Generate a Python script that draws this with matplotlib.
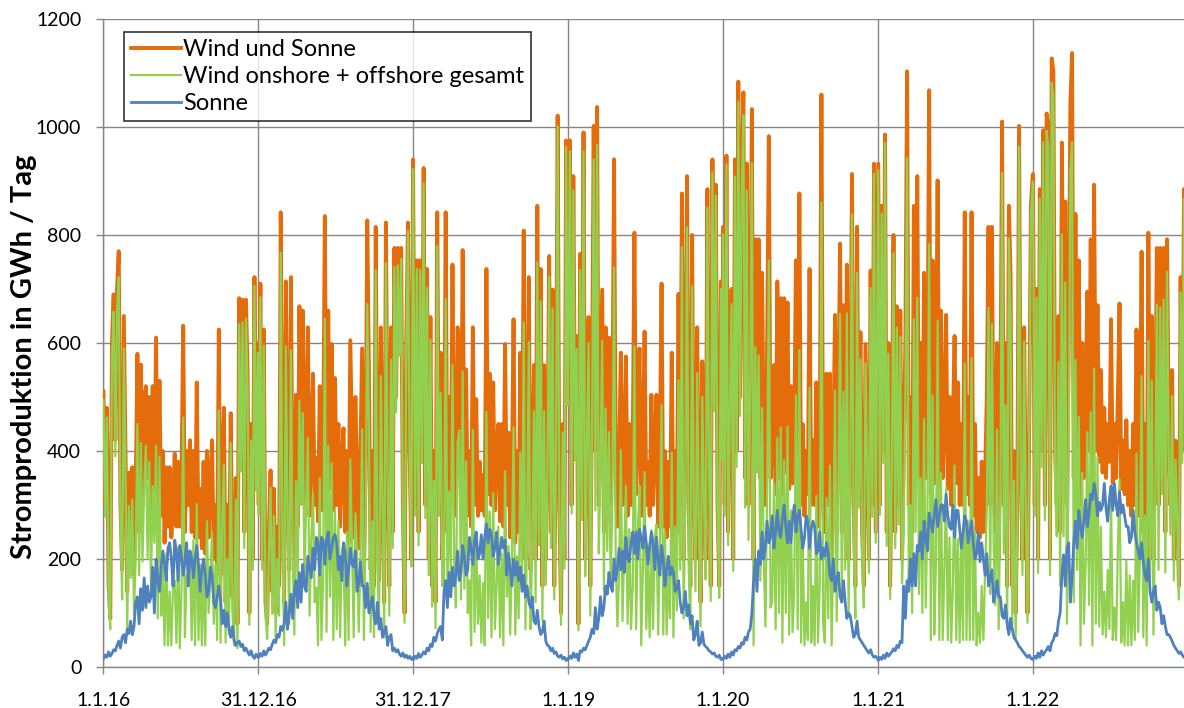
import numpy as np
import pandas as pd
import matplotlib
matplotlib.use('Agg')
import matplotlib.pyplot as plt

# Tageswerte in GWh, alle 4 Tage ein Wert (92 Werte pro Jahr)
years = [2016, 2017, 2018, 2019, 2020, 2021, 2022]

sonne_2016 = [15, 22, 18, 28, 20, 25, 32, 30, 40, 48, 35, 55, 60, 45, 70, 62,
              85, 60, 75, 120, 130, 80, 145, 105, 165, 110, 150, 120, 130, 185, 100, 200,
              160, 140, 185, 215, 190, 160, 220, 230, 200, 150, 235, 215, 160, 225, 205, 170,
              195, 230, 150, 215, 200, 165, 200, 225, 190, 140, 180, 200, 170, 130, 140, 185,
              170, 120, 110, 130, 150, 125, 80, 105, 75, 100, 70, 55, 75, 50, 40, 45,
              48, 38, 42, 30, 35, 28, 22, 30, 20, 16, 24, 18]
sonne_2017 = [18, 25, 20, 30, 22, 28, 35, 32, 42, 50, 45, 60, 55, 75, 68, 80,
              120, 70, 100, 135, 90, 140, 160, 110, 175, 120, 190, 150, 140, 205, 185, 165,
              220, 180, 240, 230, 170, 240, 235, 190, 235, 250, 200, 220, 240, 245, 230, 180,
              205, 160, 230, 210, 150, 180, 220, 190, 185, 215, 140, 155, 195, 150, 150, 110,
              155, 100, 115, 130, 95, 80, 120, 70, 90, 55, 65, 75, 40, 55, 60, 30,
              35, 28, 32, 24, 20, 26, 18, 22, 16, 20, 14, 18]
sonne_2018 = [14, 20, 16, 25, 18, 22, 28, 24, 35, 30, 42, 38, 55, 48, 62, 70,
              75, 50, 140, 160, 110, 175, 130, 185, 150, 170, 215, 160, 175, 225, 205, 170,
              180, 240, 220, 190, 235, 250, 200, 210, 245, 200, 240, 265, 230, 255, 245, 205,
              220, 250, 190, 215, 240, 220, 235, 170, 210, 180, 150, 200, 170, 195, 160, 185,
              140, 170, 130, 150, 120, 110, 130, 85, 80, 105, 75, 60, 65, 85, 48, 40,
              38, 30, 35, 25, 28, 20, 18, 22, 15, 18, 12, 16]
sonne_2019 = [14, 20, 16, 26, 18, 24, 12, 30, 28, 35, 32, 40, 48, 55, 70, 62,
              110, 70, 90, 130, 95, 110, 150, 135, 175, 150, 140, 200, 160, 185, 220, 180,
              215, 175, 240, 200, 195, 230, 250, 210, 250, 200, 255, 240, 220, 260, 230, 190,
              225, 250, 230, 180, 240, 200, 170, 225, 200, 150, 180, 205, 170, 185, 175, 140,
              145, 160, 120, 100, 110, 140, 95, 115, 80, 95, 50, 60, 85, 40, 45, 65,
              42, 38, 35, 30, 28, 24, 26, 20, 18, 22, 14, 16]
sonne_2020 = [14, 20, 16, 24, 18, 28, 22, 32, 30, 38, 35, 45, 42, 55, 50, 65,
              70, 100, 160, 200, 140, 215, 190, 250, 200, 225, 270, 230, 240, 280, 220, 250,
              290, 250, 240, 275, 300, 260, 230, 270, 230, 275, 300, 250, 280, 290, 255, 220,
              240, 280, 270, 220, 255, 270, 260, 210, 215, 250, 200, 220, 205, 230, 210, 170,
              160, 200, 140, 165, 175, 130, 120, 160, 120, 90, 100, 95, 75, 55, 60, 85,
              55, 50, 45, 40, 35, 30, 26, 32, 22, 18, 20, 16]
sonne_2021 = [12, 18, 14, 22, 16, 26, 20, 24, 28, 34, 30, 40, 36, 48, 45, 150,
              90, 160, 140, 200, 150, 210, 150, 225, 215, 250, 200, 270, 240, 215, 285, 270,
              250, 280, 310, 260, 280, 300, 300, 270, 320, 280, 260, 255, 300, 240, 290, 290,
              255, 220, 250, 280, 270, 230, 250, 270, 230, 200, 210, 250, 195, 230, 200, 170,
              210, 150, 165, 180, 120, 135, 160, 130, 130, 95, 90, 115, 80, 60, 90, 70,
              55, 50, 45, 38, 35, 30, 26, 22, 18, 22, 16, 14]
sonne_2022 = [14, 20, 16, 26, 18, 30, 22, 28, 32, 38, 30, 45, 50, 62, 58, 85,
              100, 170, 208, 150, 220, 230, 120, 165, 230, 270, 220, 290, 260, 240, 270, 310,
              260, 285, 320, 310, 340, 320, 280, 305, 290, 300, 340, 295, 270, 310, 335, 290,
              340, 300, 280, 325, 285, 300, 280, 260, 260, 230, 240, 290, 250, 230, 215, 200,
              230, 195, 170, 160, 200, 140, 120, 140, 150, 105, 120, 110, 80, 95, 75, 60,
              60, 55, 48, 40, 35, 30, 25, 28, 22, 18, 16, 20]

wind_sonne_2016 = [510, 300, 480, 150, 90, 600, 690, 420, 700, 770, 300, 180, 650, 400, 140, 360,
                   250, 370, 170, 330, 580, 250, 560, 300, 500, 520, 350, 500, 280, 520, 330, 610,
                   250, 530, 280, 400, 230, 370, 260, 370, 240, 300, 395, 260, 380, 260, 350, 632,
                   250, 400, 300, 420, 250, 400, 240, 527, 240, 330, 220, 380, 210, 400, 240, 350,
                   420, 200, 300, 180, 625, 170, 350, 480, 120, 300, 130, 470, 180, 90, 350, 80,
                   683, 400, 680, 250, 680, 540, 100, 450, 200, 722, 350, 600]
wind_sonne_2017 = [300, 710, 200, 625, 120, 80, 250, 364, 140, 330, 100, 260, 150, 842, 300, 120,
                   714, 350, 180, 722, 300, 200, 504, 260, 668, 420, 660, 300, 450, 629, 280, 400,
                   543, 300, 387, 270, 520, 290, 400, 835, 300, 660, 330, 598, 290, 535, 300, 450,
                   260, 380, 442, 250, 400, 230, 605, 419, 240, 500, 349, 220, 400, 590, 200, 350,
                   827, 543, 180, 400, 150, 815, 300, 160, 629, 350, 120, 823, 400, 150, 629, 250,
                   776, 500, 776, 600, 776, 300, 100, 600, 823, 400, 200, 940]
wind_sonne_2018 = [800, 300, 753, 250, 753, 400, 924, 300, 737, 200, 648, 150, 400, 120, 842, 350,
                   582, 200, 300, 842, 250, 500, 300, 745, 350, 280, 629, 598, 300, 772, 350, 551,
                   280, 400, 260, 629, 300, 496, 280, 380, 290, 356, 280, 737, 320, 543, 300, 527,
                   290, 400, 450, 270, 450, 260, 598, 300, 434, 240, 350, 644, 230, 400, 250, 582,
                   300, 808, 200, 400, 722, 180, 350, 559, 200, 854, 300, 737, 150, 559, 200, 400,
                   761, 250, 699, 150, 400, 1021, 300, 100, 450, 200, 975, 500]
wind_sonne_2019 = [600, 975, 300, 909, 400, 613, 80, 765, 300, 990, 200, 450, 648, 150, 500, 1002,
                   400, 1037, 300, 500, 699, 250, 629, 350, 610, 300, 450, 940, 350, 260, 400, 582,
                   300, 400, 575, 280, 450, 300, 400, 804, 320, 450, 590, 280, 400, 621, 300, 380,
                   280, 504, 300, 420, 504, 260, 400, 710, 260, 400, 240, 380, 260, 582, 230, 400,
                   250, 691, 300, 877, 200, 450, 909, 300, 150, 800, 350, 200, 629, 300, 120, 566,
                   350, 200, 885, 400, 150, 940, 500, 893, 300, 150, 714, 400]
wind_sonne_2020 = [815, 300, 947, 250, 500, 700, 200, 940, 400, 1084, 500, 920, 1064, 350, 932, 300,
                   600, 1033, 200, 792, 500, 792, 350, 730, 400, 300, 600, 983, 350, 400, 559, 320,
                   714, 350, 683, 320, 683, 360, 675, 330, 520, 340, 450, 753, 350, 877, 300, 450,
                   280, 400, 320, 737, 300, 420, 300, 527, 260, 400, 1060, 300, 250, 543, 300, 543,
                   200, 400, 652, 250, 500, 784, 250, 670, 300, 745, 200, 450, 913, 300, 150, 815,
                   350, 620, 250, 150, 598, 400, 200, 734, 300, 932, 250, 700]
wind_sonne_2021 = [932, 300, 854, 400, 986, 250, 600, 150, 400, 800, 250, 668, 300, 660, 200, 400,
                   600, 1103, 300, 500, 250, 854, 400, 909, 350, 600, 300, 730, 350, 500, 1068, 320,
                   753, 340, 500, 901, 330, 660, 350, 450, 652, 330, 500, 300, 450, 613, 340, 527,
                   300, 450, 300, 842, 320, 500, 300, 842, 280, 450, 250, 350, 240, 380, 250, 350,
                   500, 815, 300, 815, 350, 250, 600, 200, 450, 1010, 300, 600, 150, 854, 730, 150,
                   400, 100, 300, 1002, 400, 200, 629, 300, 100, 450, 854, 909]
wind_sonne_2022 = [913, 300, 700, 200, 885, 400, 994, 300, 1025, 1000, 200, 1127, 1103, 400, 300, 650,
                   250, 971, 450, 862, 300, 600, 1041, 1137, 350, 839, 400, 753, 300, 600, 350, 500,
                   695, 400, 792, 350, 893, 400, 670, 380, 550, 360, 480, 350, 450, 380, 644, 340,
                   450, 350, 500, 673, 330, 420, 320, 457, 300, 400, 280, 450, 300, 625, 280, 400,
                   769, 250, 450, 200, 804, 300, 650, 200, 450, 776, 300, 776, 400, 776, 250, 792,
                   450, 300, 550, 200, 419, 300, 150, 722, 400, 885, 300, 500]

sonne_all = [sonne_2016, sonne_2017, sonne_2018, sonne_2019, sonne_2020, sonne_2021, sonne_2022]
summe_all = [wind_sonne_2016, wind_sonne_2017, wind_sonne_2018, wind_sonne_2019,
             wind_sonne_2020, wind_sonne_2021, wind_sonne_2022]

dates = pd.DatetimeIndex(np.concatenate(
    [pd.date_range(f'{y}-01-01', periods=92, freq='4D').values for y in years]))
sonne = np.concatenate([np.array(s, float) for s in sonne_all])
summe = np.concatenate([np.array(s, float) for s in summe_all])
wind = summe - sonne

tick_dates = pd.to_datetime(['2016-01-01', '2016-12-31', '2017-12-31', '2019-01-01',
                             '2020-01-01', '2021-01-01', '2022-01-01'])
tick_labels = ['1.1.16', '31.12.16', '31.12.17', '1.1.19', '1.1.20', '1.1.21', '1.1.22']

plt.rcParams['font.family'] = ['Lato', 'DejaVu Sans']
grid_col = '#868686'

fig = plt.figure(figsize=(11.84, 7.08), dpi=100)
ax = fig.add_axes([0.0874, 0.0579, 0.9126, 0.9153])

ax.plot(dates, summe, color='#E46C0A', lw=2.8, label='Wind und Sonne', zorder=3)
ax.plot(dates, wind, color='#92D050', lw=1.6, label='Wind onshore + offshore gesamt', zorder=4)
ax.plot(dates, sonne, color='#4F81BD', lw=2.0, label='Sonne', zorder=5)

ax.set_xlim(pd.Timestamp('2016-01-01'), pd.Timestamp('2022-12-23'))
ax.set_ylim(0, 1200)
ax.set_yticks(range(0, 1201, 200))
ax.set_xticks(tick_dates)
ax.set_xticklabels(tick_labels)
ax.grid(True, color=grid_col, lw=1.0, zorder=0)
ax.set_axisbelow(True)

for s in ['top', 'right']:
    ax.spines[s].set_visible(False)
for s in ['left', 'bottom']:
    ax.spines[s].set_color(grid_col)
    ax.spines[s].set_linewidth(1.0)
ax.tick_params(axis='both', colors=grid_col, length=5, width=1.0, labelsize=14,
               labelcolor='black')
ax.tick_params(axis='y', pad=11)
ax.tick_params(axis='x', pad=13)

ax.set_ylabel('Stromproduktion in GWh / Tag', fontsize=21, fontweight='bold')
ax.yaxis.set_label_coords(-0.0615, 0.478)

leg = ax.legend(loc='upper left', bbox_to_anchor=(0.019, 0.98), borderaxespad=0,
                fontsize=17, frameon=True, fancybox=False, handlelength=2.1,
                handletextpad=0.1, labelspacing=0.25, borderpad=0.3)
leg.get_frame().set_edgecolor('black')
leg.get_frame().set_linewidth(1.2)

fig.savefig('out.png', dpi=100)
